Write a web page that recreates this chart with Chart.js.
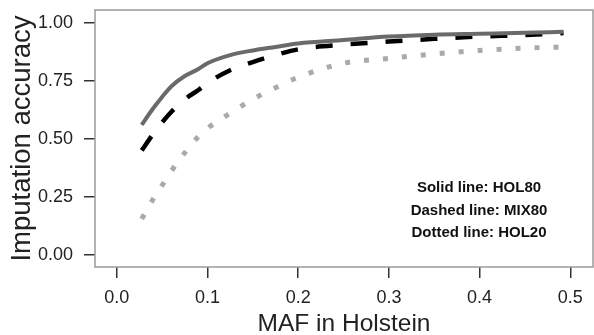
<!DOCTYPE html>
<html>
<head>
<meta charset="utf-8">
<script src="https://cdn.jsdelivr.net/npm/chart.js@4.4.1/dist/chart.umd.min.js"></script>
<style>
  html, body { margin: 0; padding: 0; background: #fff; }
  #wrap { width: 594px; height: 335px; position: relative; }
</style>
</head>
<body>
<div id="wrap"><canvas id="chart"></canvas></div>
<script>
// MAF bins (x) and accuracy per reference panel
const maf   = [0.0275, 0.04, 0.05, 0.06, 0.075, 0.09, 0.1, 0.125, 0.15, 0.175, 0.2, 0.25, 0.3, 0.35, 0.4, 0.45, 0.4925];
const hol80 = [0.56, 0.63, 0.68, 0.725, 0.77, 0.80, 0.825, 0.86, 0.88, 0.895, 0.91, 0.925, 0.94, 0.948, 0.952, 0.956, 0.96];
const mix80 = [0.45, 0.52, 0.57, 0.615, 0.67, 0.71, 0.74, 0.795, 0.83, 0.86, 0.885, 0.905, 0.918, 0.93, 0.94, 0.946, 0.955];
const hol20 = [0.155, 0.24, 0.30, 0.36, 0.44, 0.51, 0.545, 0.61, 0.67, 0.72, 0.765, 0.825, 0.846, 0.865, 0.88, 0.89, 0.895];

const xTicks = [0, 0.1, 0.2, 0.3, 0.4, 0.5];
const yTicks = [0, 0.25, 0.5, 0.75, 1];
const legendLines = ["Solid line: HOL80", "Dashed line: MIX80", "Dotted line: HOL20"];

const FONT = "'Liberation Sans', Arial, sans-serif";

function toPoints(ys) {
    return maf.map((x, i) => ({ x: x, y: ys[i] }));
}

// box round the plot area + the little text legend
const boxPlugin = {
    id: "boxPlugin",
    afterDraw(chart) {
        const c = chart.ctx;
        const a = chart.chartArea;
        c.save();
        c.strokeStyle = "#9a9a9a";
        c.lineWidth = 1.5;
        c.strokeRect(a.left, a.top, a.right - a.left, a.bottom - a.top);

        c.fillStyle = "#111";
        c.font = "bold 15px " + FONT;
        c.textAlign = "center";
        c.textBaseline = "middle";
        const ys = [188, 211, 233];
        legendLines.forEach((t, i) => c.fillText(t, 479, ys[i]));
        c.restore();
    }
};

const tickGrid = { display: true, drawOnChartArea: false, drawTicks: true, tickLength: 11, color: "#333", lineWidth: 1.5 };

new Chart(document.getElementById("chart"), {
    type: "scatter",
    data: {
        datasets: [
            { label: "HOL80", data: toPoints(hol80), showLine: true, borderColor: "#6a6a6a", borderWidth: 4, pointRadius: 0, cubicInterpolationMode: "monotone" },
            { label: "MIX80", data: toPoints(mix80), showLine: true, borderColor: "#000", borderWidth: 4.5, borderDash: [17, 18], borderCapStyle: "butt", pointRadius: 0, cubicInterpolationMode: "monotone" },
            { label: "HOL20", data: toPoints(hol20), showLine: true, borderColor: "#aaaaaa", borderWidth: 5, borderDash: [5, 14], borderCapStyle: "butt", pointRadius: 0, cubicInterpolationMode: "monotone" }
        ]
    },
    options: {
        responsive: true,
        maintainAspectRatio: false,
        animation: false,
        layout: { padding: { top: 10, right: 1, left: 0, bottom: 0 } },
        plugins: { legend: { display: false }, tooltip: { enabled: false } },
        scales: {
            x: {
                type: "linear",
                min: -0.024,
                max: 0.525,
                grid: tickGrid,
                border: { display: false },
                ticks: { color: "#222", font: { family: FONT, size: 18 }, padding: 9, maxRotation: 0, callback: v => v.toFixed(1) },
                afterBuildTicks: s => { s.ticks = xTicks.map(v => ({ value: v })); },
                afterFit: s => { s.height = 68; s.paddingLeft = 0; s.paddingRight = 0; },
                title: { display: true, text: "MAF in Holstein", color: "#222", font: { family: FONT, size: 24.5, lineHeight: 0.86 }, padding: 0 }
            },
            y: {
                type: "linear",
                min: -0.0516,
                max: 1.054,
                grid: tickGrid,
                border: { display: false },
                ticks: { color: "#222", font: { family: FONT, size: 18 }, padding: 11, callback: v => v.toFixed(2) },
                afterBuildTicks: s => { s.ticks = yTicks.map(v => ({ value: v })); },
                afterFit: s => { s.width = 95; s.paddingTop = 0; s.paddingBottom = 0; },
                title: { display: true, text: "Imputation accuracy", color: "#222", font: { family: FONT, size: 27.5, lineHeight: 1.2 }, padding: { top: 6, bottom: 0 } }
            }
        }
    },
    plugins: [boxPlugin]
});
</script>
</body>
</html>
